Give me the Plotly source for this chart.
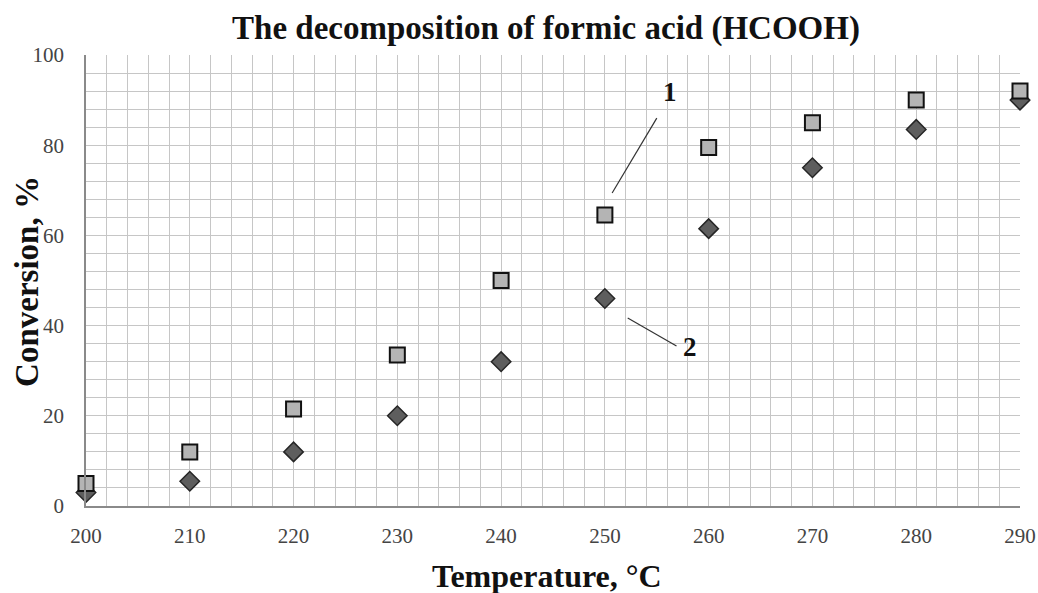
import plotly.graph_objects as go

temperature = [200, 210, 220, 230, 240, 250, 260, 270, 280, 290]
conversion_1 = [5, 12, 21.5, 33.5, 50, 64.5, 79.5, 85, 90, 92]
conversion_2 = [3, 5.5, 12, 20, 32, 46, 61.5, 75, 83.5, 90]

serif = "Liberation Serif, Times New Roman, serif"

fig = go.Figure()
fig.add_trace(go.Scatter(
    x=temperature, y=conversion_2, mode="markers", name="2", cliponaxis=False,
    marker=dict(symbol="diamond", size=15, color="#5e5e5e",
                line=dict(color="#262626", width=1.5))))
fig.add_trace(go.Scatter(
    x=temperature, y=conversion_1, mode="markers", name="1", cliponaxis=False,
    marker=dict(symbol="square", size=15, color="#b4b4b4",
                line=dict(color="#111111", width=2))))

fig.add_shape(type="line", x0=255.0, y0=86.0, x1=250.7, y1=69.4,
              line=dict(color="#333333", width=1.2))
fig.add_shape(type="line", x0=252.2, y0=41.7, x1=256.9, y1=35.5,
              line=dict(color="#333333", width=1.2))
fig.add_annotation(x=256.3, y=91.8, text="<b>1</b>", showarrow=False,
                   font=dict(family=serif, size=27, color="#111111"))
fig.add_annotation(x=258.2, y=35.3, text="<b>2</b>", showarrow=False,
                   font=dict(family=serif, size=27, color="#111111"))

# axis titles
fig.add_annotation(xref="paper", yref="paper", x=0.4936, y=-0.155,
                   text="<b>Temperature, °C</b>", showarrow=False,
                   xanchor="center", yanchor="middle",
                   font=dict(family=serif, size=32, color="#111111"))
fig.add_annotation(xref="paper", yref="paper", x=-0.0632, y=0.499,
                   text="<b>Conversion, %</b>", showarrow=False, textangle=-90,
                   xanchor="center", yanchor="middle",
                   font=dict(family=serif, size=33, color="#111111"))

fig.update_layout(
    width=1038, height=593,
    margin=dict(l=86, r=18, t=55, b=87, autoexpand=False),
    paper_bgcolor="white", plot_bgcolor="white",
    showlegend=False,
    title=dict(text="<b>The decomposition of formic acid (HCOOH)</b>",
               x=0.526, xanchor="center", y=0.953, yanchor="middle",
               font=dict(family=serif, size=33, color="#111111")),
    xaxis=dict(range=[200, 290], dtick=10, tick0=200, automargin=False,
               showgrid=True, gridcolor="#c6c6c6", gridwidth=1,
               minor=dict(dtick=2, showgrid=True, gridcolor="#c6c6c6", gridwidth=1),
               showline=True, linecolor="#8a8a8a", linewidth=1.5,
               zeroline=False, ticks="", ticklabelstandoff=10,
               tickfont=dict(family=serif, size=21, color="#444444")),
    yaxis=dict(range=[0, 100], dtick=20, tick0=0, automargin=False,
               showgrid=True, gridcolor="#c6c6c6", gridwidth=1,
               minor=dict(dtick=4, showgrid=True, gridcolor="#c6c6c6", gridwidth=1),
               showline=True, linecolor="#8a8a8a", linewidth=1.5,
               zeroline=False, ticks="", ticklabelstandoff=16,
               tickfont=dict(family=serif, size=21, color="#444444")),
)

fig.write_html("out.html")
